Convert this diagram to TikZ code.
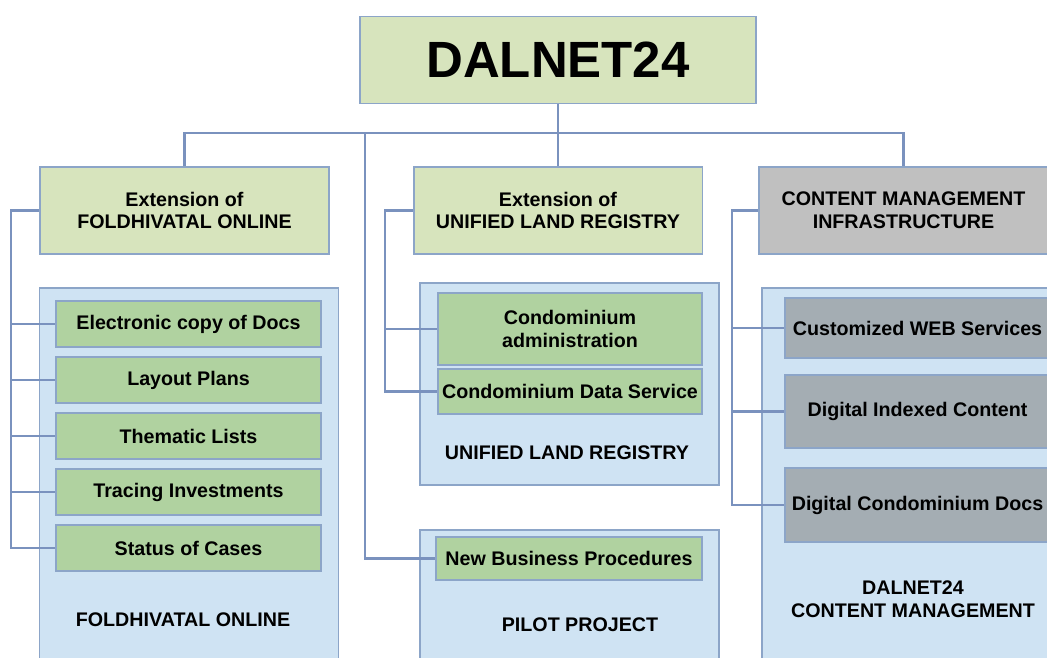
\documentclass[tikz,border=0pt]{standalone}
\usepackage{fontspec}
\setmainfont{Liberation Sans}
\definecolor{myhead}{RGB}{215,228,189}
\definecolor{myitem}{RGB}{176,210,160}
\definecolor{mypanel}{RGB}{207,227,243}
\definecolor{mygrayhead}{RGB}{192,192,192}
\definecolor{mygrayitem}{RGB}{164,173,179}
\definecolor{myframe}{RGB}{140,165,200}
\definecolor{mylink}{RGB}{122,146,190}
\newcommand{\widthhead}{5.78cm}
\newcommand{\widthitem}{5.3cm}
\newcommand{\widthpanel}{5.98cm}
\newcommand{\heighthead}{1.74cm}
\newcommand{\heightitem}{0.92cm}
\tikzset{
    common/.style={draw=myframe, line width=1.1pt, rectangle, inner sep=0pt, align=center,
        font=\bfseries\fontsize{11.2}{13}\selectfont},
    head/.style={common, fill=myhead, minimum width=\widthhead, minimum height=\heighthead},
    item/.style={common, fill=myitem, minimum width=\widthitem, minimum height=\heightitem},
    grayitem/.style={item, fill=mygrayitem},
    panel/.style={common, fill=mypanel, minimum width=\widthpanel},
    caption/.style={align=center, font=\bfseries\fontsize{11.2}{13}\selectfont},
    link/.style={draw=mylink, line width=1.2pt}
}

\begin{document}
\begin{tikzpicture}[x=0.02cm, y=-0.02cm]
    \useasboundingbox (0,0) rectangle (1047,657);
    \clip (0,0) rectangle (1047,657);

    % root and first level
    \node[head, minimum width=7.92cm, font=\bfseries\fontsize{29}{31}\selectfont] (top) at (558,60) {DALNET24};
    \node[head] (hA) at (184.5,210.5) {Extension of\\FOLDHIVATAL ONLINE};
    \node[head] (hB) at (558,210.5) {Extension of\\UNIFIED LAND REGISTRY};
    \node[head, fill=mygrayhead] (hC) at (903.5,210.5) {CONTENT MANAGEMENT\\INFRASTRUCTURE};

    % panels
    \node[panel, minimum height=8.04cm] (pA) at (189,489) {};
    \node[panel, minimum height=4.04cm] (pB) at (569.5,384) {};
    \node[panel, minimum height=3.2cm] (pC) at (569.5,610) {};
    \node[panel, minimum width=6cm, minimum height=8.04cm] (pD) at (912,489) {};

    \node[caption] (labA) at (183,620) {FOLDHIVATAL ONLINE};
    \node[caption] (labB) at (567,453) {UNIFIED LAND REGISTRY};
    \node[caption] (labC) at (580,625) {PILOT PROJECT};
    \node[caption] (labD) at (913,599) {DALNET24\\CONTENT MANAGEMENT};

    % items
    \path
        (188.5,324) node[item] (A1) {Electronic copy of Docs}
        to ++(0,56) node[item] (A2) {Layout Plans}
        to ++(0,56) node[item] (A3) {Thematic Lists}
        to ++(0,56) node[item] (A4) {Tracing Investments}
        to ++(0,56) node[item] (A5) {Status of Cases};
    \path
        (570,329) node[item, minimum width=5.28cm, minimum height=1.44cm] (B1) {Condominium\\administration}
        to ++(0,62.5) node[item, minimum width=5.28cm, minimum height=0.9cm] (B2) {Condominium Data Service};
    \node[item, minimum width=5.32cm, minimum height=0.86cm] (C1) at (569,558.5) {New Business Procedures};
    \path
        (917.5,328) node[grayitem, minimum height=1.2cm] (D1) {Customized WEB Services}
        to ++(0,83.5) node[grayitem, minimum height=1.46cm] (D2) {Digital Indexed Content}
        to ++(0,93.5) node[grayitem, minimum height=1.48cm] (D3) {Digital Condominium Docs};

    % connectors
    \coordinate (bus) at (558,133);
    \coordinate (drop) at (365,133);
    \draw[link] (top) -- (hB);
    \draw[link] (hA.north) |- (bus) -| (hC.north);
    \draw[link] (drop) |- (C1.west);

    \draw[link] (hA.west) -- ++(-28,0) coordinate (sideA) |- (A5.west);
    \foreach \n in {A1,A2,A3,A4}
        \draw[link] (sideA |- \n.west) -- (\n.west);
    \draw[link] (hB.west) -- ++(-28,0) coordinate (sideB) |- (B2.west);
    \draw[link] (sideB |- B1.west) -- (B1.west);
    \draw[link] (hC.west) -- ++(-26,0) coordinate (sideC) |- (D3.west);
    \foreach \n in {D1,D2}
        \draw[link] (sideC |- \n.west) -- (\n.west);
\end{tikzpicture}
\end{document}
